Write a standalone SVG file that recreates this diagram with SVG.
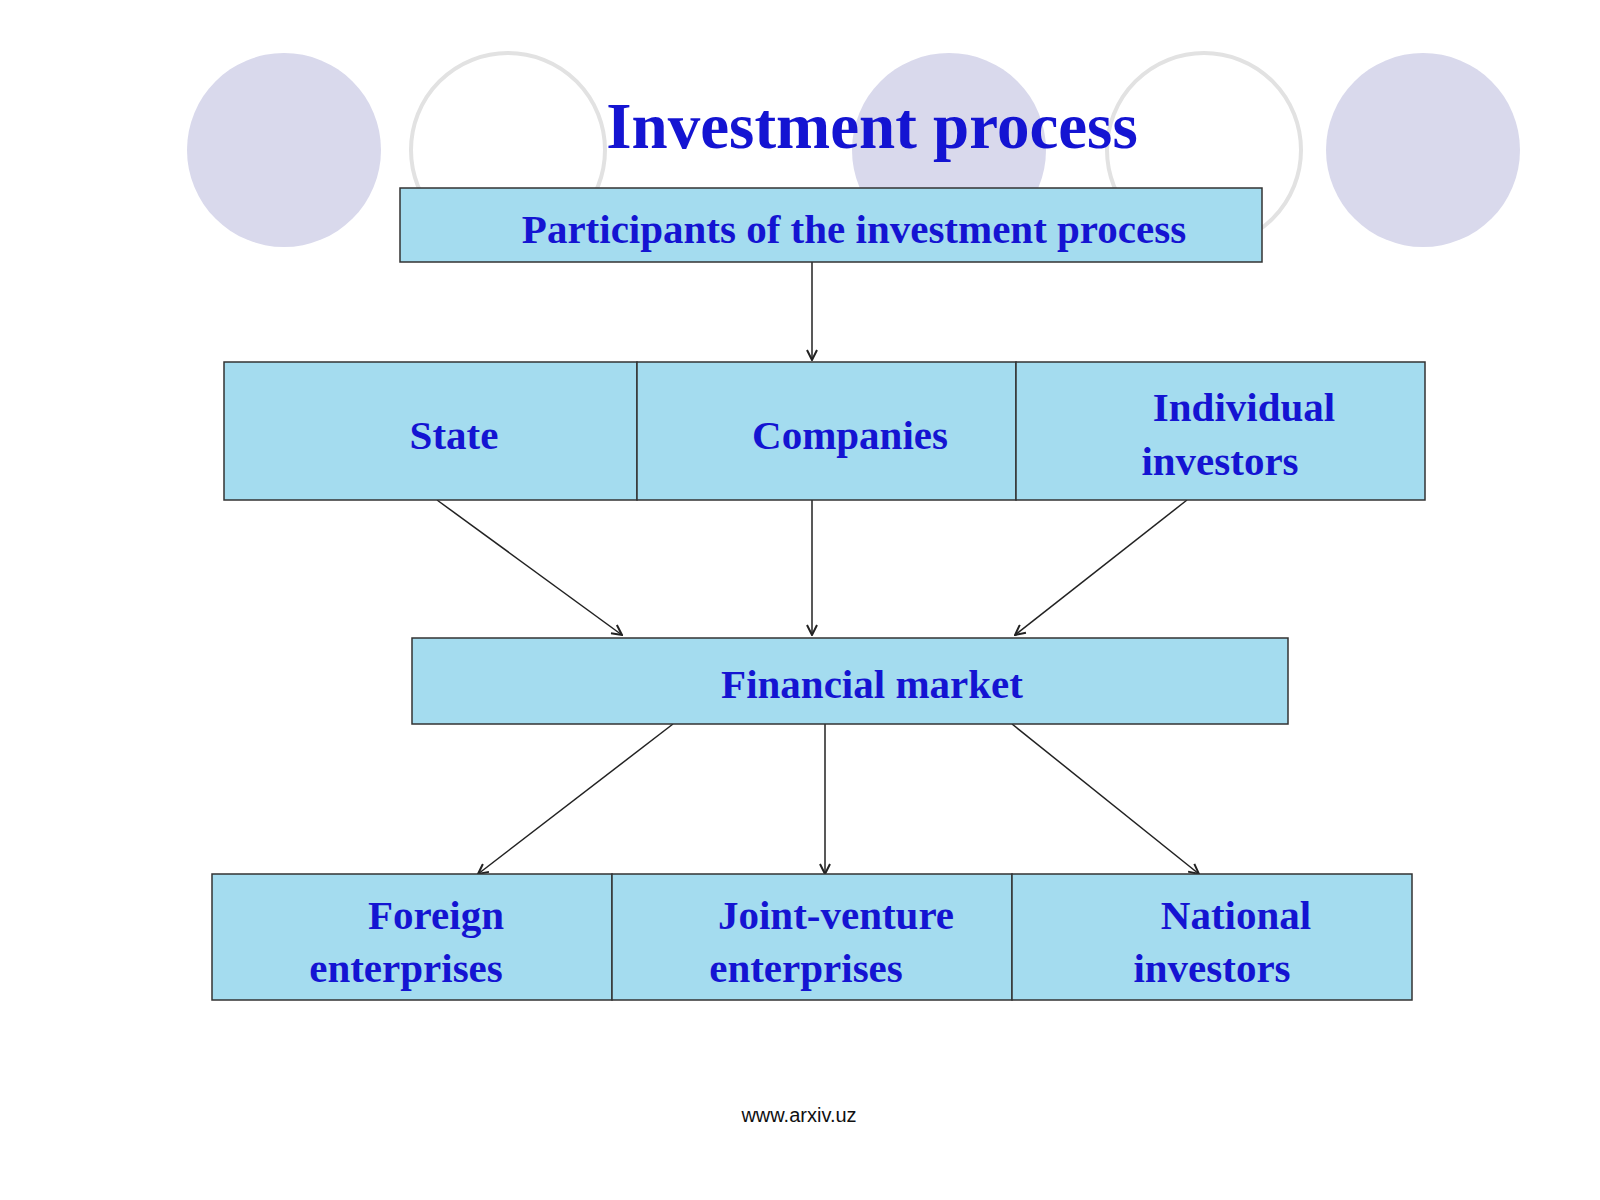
<svg xmlns="http://www.w3.org/2000/svg" width="1600" height="1200" viewBox="0 0 1600 1200">
<defs>
<style>
.b{fill:#a4dcef;stroke:#333;stroke-width:1.5}
.t{font-family:"Liberation Serif",serif;font-weight:bold;fill:#1414d2;font-size:41px;text-anchor:middle}
.c{stroke:#222;stroke-width:1.5;fill:none;marker-end:url(#a)}
.f{fill:#d9d9ec}
.o{fill:none;stroke:#e2e2e2;stroke-width:4}
</style>
<marker id="a" viewBox="0 0 12 12" refX="11" refY="6" markerWidth="12" markerHeight="12" markerUnits="userSpaceOnUse" orient="auto">
<path d="M1,1 L11,6 L1,11" fill="none" stroke="#222" stroke-width="2"/>
</marker>
</defs>
<rect width="1600" height="1200" fill="#fff"/>
<g id="decor">
<circle class="f" cx="284" cy="150" r="97"/>
<circle class="o" cx="508" cy="150" r="97"/>
<circle class="f" cx="949" cy="150" r="97"/>
<circle class="o" cx="1204" cy="150" r="97"/>
<circle class="f" cx="1423" cy="150" r="97"/>
</g>
<text x="872" y="148" class="t" style="font-size:65px">Investment process</text>
<g id="connectors">
<line class="c" x1="812" y1="262" x2="812" y2="360"/>
<line class="c" x1="437" y1="500" x2="622" y2="635"/>
<line class="c" x1="812" y1="500" x2="812" y2="635"/>
<line class="c" x1="1187" y1="500" x2="1015" y2="635"/>
<line class="c" x1="673" y1="724" x2="478" y2="874"/>
<line class="c" x1="825" y1="724" x2="825" y2="874"/>
<line class="c" x1="1012" y1="724" x2="1199" y2="874"/>
</g>
<g id="participants"><rect class="b" x="400" y="188" width="862" height="74"/><text class="t" x="854" y="243">Participants of the investment process</text></g>
<g id="state"><rect class="b" x="224" y="362" width="413" height="138"/><text class="t" x="454" y="449">State</text></g>
<g id="companies"><rect class="b" x="637" y="362" width="379" height="138"/><text class="t" x="850" y="449">Companies</text></g>
<g id="individual"><rect class="b" x="1016" y="362" width="409" height="138"/><text class="t" x="1244" y="421">Individual</text><text class="t" x="1220" y="475">investors</text></g>
<g id="market"><rect class="b" x="412" y="638" width="876" height="86"/><text class="t" x="872" y="698">Financial market</text></g>
<g id="foreign"><rect class="b" x="212" y="874" width="400" height="126"/><text class="t" x="436" y="929">Foreign</text><text class="t" x="406" y="982">enterprises</text></g>
<g id="joint"><rect class="b" x="612" y="874" width="400" height="126"/><text class="t" x="836" y="929">Joint-venture</text><text class="t" x="806" y="982">enterprises</text></g>
<g id="national"><rect class="b" x="1012" y="874" width="400" height="126"/><text class="t" x="1236" y="929">National</text><text class="t" x="1212" y="982">investors</text></g>
<text x="799" y="1122" style="font-family:'Liberation Sans',sans-serif;font-size:20px;text-anchor:middle;fill:#111">www.arxiv.uz</text>
</svg>
